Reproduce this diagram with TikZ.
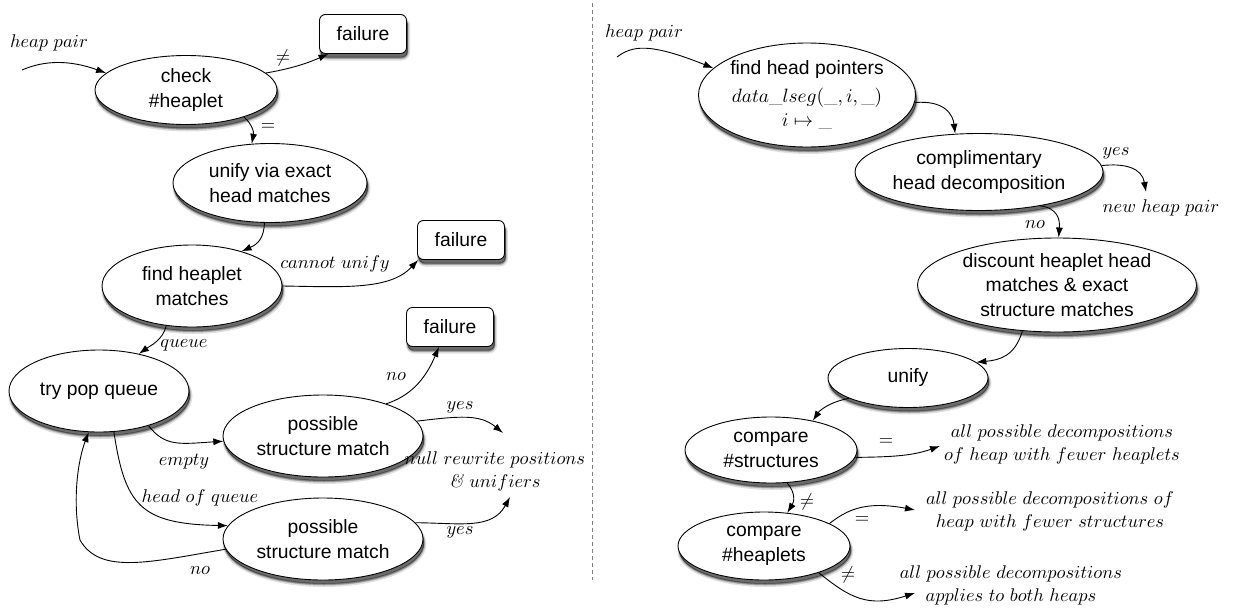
\documentclass[tikz,border=0pt]{standalone}
\usepackage{fontspec}
\DeclareFontShape{OML}{cmm}{m}{it}{<->cmmi10}{}
\DeclareFontShape{OMS}{cmsy}{m}{n}{<->cmsy10}{}
\DeclareFontShape{OT1}{cmr}{m}{n}{<->cmr10}{}
\newfontfamily\sfnodes{Liberation Sans}
\usetikzlibrary{shapes.geometric,arrows.meta,shadows}
\tikzset{
  softshadow/.style={
    drop shadow={shadow xshift=1.5pt, shadow yshift=-5pt, draw=black, fill=black, line width=4pt, opacity=0.12},
    drop shadow={shadow xshift=1.2pt, shadow yshift=-4.5pt, draw=black, fill=black, line width=2pt, opacity=0.2},
    drop shadow={shadow xshift=1pt, shadow yshift=-3.5pt, draw=black, fill=black, line width=0.5pt, opacity=0.4}},
  proc/.style={ellipse, draw, line width=0.9pt, fill=white, inner sep=0pt, align=center,
    font=\sfnodes\fontsize{19.3}{24.5}\selectfont, softshadow},
  failbox/.style={rectangle, rounded corners=6pt, draw, line width=0.9pt, fill=white, inner sep=0pt,
    minimum width=87pt, minimum height=39pt, font=\sfnodes\fontsize{19.3}{24.5}\selectfont, softshadow},
  lbl/.style={inner sep=0pt, align=center, font=\fontsize{18.4}{23}\selectfont},
  arr/.style={-{Latex[length=10pt,width=7pt]}, line width=0.9pt},
}
\begin{document}
\begin{tikzpicture}[x=1pt,y=-1pt]
\useasboundingbox (0,0) rectangle (1233,613);
% ---------------- left ----------------
\node[lbl] (hpL) at (49,43) {$heap\ pair$};
\coordinate (hp1) at (22,70);
\node[proc, minimum width=182pt, minimum height=69pt] (check) at (186,90) {check\\\#heaplet};
\node[failbox] (fail1) at (363,34) {failure};
\node[proc, minimum width=194pt, minimum height=79pt] (unify1) at (270,183) {unify via exact\\head matches};
\node[proc, minimum width=180pt, minimum height=82pt] (findhm) at (192,286) {find heaplet\\matches};
\node[failbox] (fail2) at (461,240) {failure};
\node[proc, minimum width=180pt, minimum height=82pt] (trypop) at (99,391) {try pop queue};
\node[failbox] (fail3) at (450,327) {failure};
\node[proc, minimum width=200pt, minimum height=82pt] (psm1) at (323,436) {possible\\structure match};
\node[proc, minimum width=200pt, minimum height=82pt] (psm2) at (323,539) {possible\\structure match};
\node[lbl] (nullrw) at (495,471) {$null\ rewrite\ positions$\\\textit{\&} $unifiers$};
\coordinate (nr1) at (503,433);
\coordinate (nr2) at (510,497);

\draw[arr] (hp1) .. controls (45,60) and (70,60) .. (check.168);
\draw[arr] (check.12) .. controls (295,68) and (310,62) .. (fail1.210);
\node[lbl] (lneq1) at (283,58) {$\neq$};
\draw[arr] (check.-25) .. controls (252,124) and (254,132) .. (unify1.115);
\node[lbl] (leq1) at (268,127) {$=$};
\draw[arr] (unify1.-98) .. controls (264,238) and (258,244) .. (findhm.35);
\draw[arr] (findhm.east) .. controls (345,287) and (390,290) .. (fail2.205);
\node[lbl] (lcu) at (335,264) {$cannot\ unify$};
\draw[arr] (findhm.-123) .. controls (163,340) and (150,346) .. (trypop.43);
\node[lbl] (lqueue) at (184,345) {$queue$};
\draw[arr] (trypop.-35) .. controls (165,447) and (180,444) .. (psm1.183);
\node[lbl] (lempty) at (184,462) {$empty$};
\draw[arr] (trypop.-70) .. controls (125,505) and (140,524) .. (psm2.172);
\node[lbl] (lhoq) at (200,498) {$head\ of\ queue$};
\draw[arr] (psm2.186) .. controls (150,562) and (100,575) .. (80,540) .. controls (72,500) and (78,460) .. (trypop.-104);
\node[lbl] (lno1) at (200,571) {$no$};
\draw[arr] (psm1.27) .. controls (410,396) and (425,380) .. (fail3.241);
\node[lbl] (lno2) at (396,377) {$no$};
\draw[arr] (psm1.9) .. controls (460,416) and (480,414) .. (nr1);
\node[lbl] (lyes1) at (460,407) {$yes$};
\draw[arr] (psm2.10) .. controls (460,523) and (492,530) .. (nr2);
\node[lbl] (lyes2) at (460,532) {$yes$};

% ---------------- separator ----------------
\coordinate (sepT) at (592,3);
\coordinate (sepB) at (592,580);
\draw[gray, line width=0.9pt, dash pattern=on 4pt off 3pt] (sepT) -- (sepB);

% ---------------- right ----------------
\node[lbl] (hpR) at (644,33) {$heap\ pair$};
\coordinate (hp2) at (617,57);
\node[proc, minimum width=215pt, minimum height=104pt] (findhp) at (807,95)
  {find head pointers\\[3pt] $data\textrm{\_}lseg(\textrm{\_},i,\textrm{\_})$\\ $i\mapsto\textrm{\_}$};
\node[proc, minimum width=248pt, minimum height=77pt] (compl) at (979,172) {complimentary\\head decomposition};
\node[lbl] (nhpL) at (1161,208) {$new\ heap\ pair$};
\coordinate (nhp) at (1146,192);
\node[proc, minimum width=279pt, minimum height=94pt] (disc) at (1057,285)
  {discount heaplet head\\matches \& exact\\structure matches};
\node[proc, minimum width=160pt, minimum height=59pt] (unify2) at (908,378) {unify};
\node[proc, minimum width=172pt, minimum height=66pt] (cmpS) at (771,450) {compare\\\#structures};
\node[proc, minimum width=172pt, minimum height=68pt] (cmpH) at (764,546) {compare\\\#heaplets};
\node[lbl] (txt1) at (1062,444) {$all\ possible\ decompositions$\\$of\ heap\ with\ fewer\ heaplets$};
\node[lbl] (txt2) at (1050,511) {$all\ possible\ decompositions\ of$\\$heap\ with\ fewer\ structures$};
\node[lbl] (txt3) at (1011,585) {$all\ possible\ decompositions$\\$applies\ to\ both\ heaps$};
\coordinate (t1) at (940,446);
\coordinate (t2) at (915,510);
\coordinate (t3) at (915,593);

\draw[arr] (hp2) .. controls (632,46) and (648,42) .. (findhp.164);
\draw[arr] (findhp.-4) .. controls (945,100) and (953,115) .. (compl.122);
\draw[arr] (compl.3) .. controls (1125,163) and (1142,168) .. (nhp);
\node[lbl] (lyes3) at (1116,153) {$yes$};
\draw[arr] (compl.-29) .. controls (1058,208) and (1060,220) .. (disc.88);
\node[lbl] (lno3) at (1035,225) {$no$};
\draw[arr] (disc.-127) .. controls (1015,356) and (1000,360) .. (unify2.13);
\draw[arr] (unify2.199) .. controls (830,402) and (820,410) .. (cmpS.35);
\draw[arr] (cmpS.-5) .. controls (890,457) and (912,456) .. (t1);
\node[lbl] (leq2) at (886,442) {$=$};
\draw[arr] (cmpS.-64) .. controls (796,493) and (794,502) .. (cmpH.55);
\node[lbl] (lneq2) at (807,502) {$\neq$};
\draw[arr] (cmpH.19) .. controls (845,512) and (862,500) .. (t2);
\node[lbl] (leq3) at (862,520) {$=$};
\draw[arr] (cmpH.-26) .. controls (850,598) and (868,608) .. (t3);
\node[lbl] (lneq3) at (848,575) {$\neq$};
\end{tikzpicture}
\end{document}
